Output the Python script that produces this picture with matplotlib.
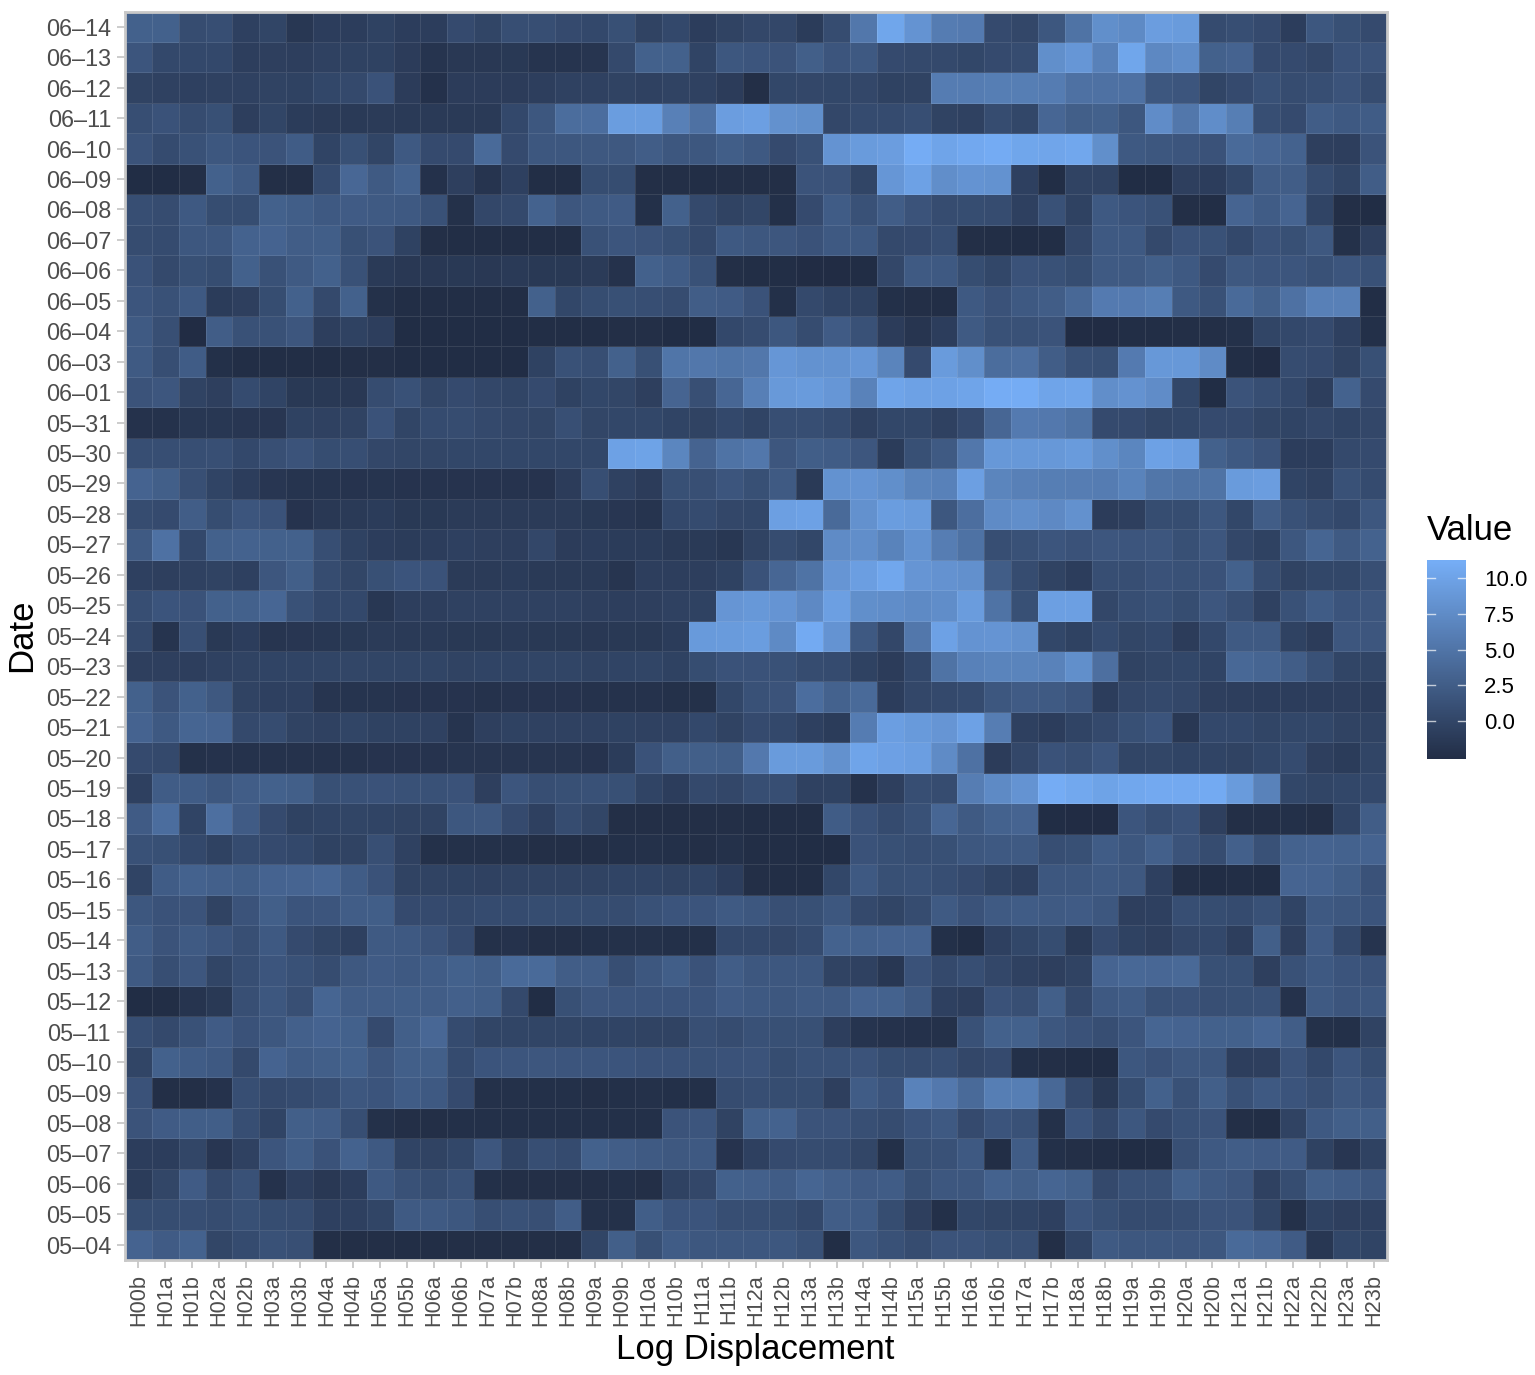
import numpy as np
import matplotlib
matplotlib.use('Agg')
import matplotlib.pyplot as plt
from matplotlib.colors import LinearSegmentedColormap

plt.rcParams['font.family'] = ['Liberation Sans', 'DejaVu Sans']

hours = ['H00b', 'H01a', 'H01b', 'H02a', 'H02b', 'H03a', 'H03b', 'H04a', 'H04b', 'H05a', 'H05b', 'H06a',
         'H06b', 'H07a', 'H07b', 'H08a', 'H08b', 'H09a', 'H09b', 'H10a', 'H10b', 'H11a', 'H11b', 'H12a',
         'H12b', 'H13a', 'H13b', 'H14a', 'H14b', 'H15a', 'H15b', 'H16a', 'H16b', 'H17a', 'H17b', 'H18a',
         'H18b', 'H19a', 'H19b', 'H20a', 'H20b', 'H21a', 'H21b', 'H22a', 'H22b', 'H23a', 'H23b']

dates = ['05–04', '05–05', '05–06', '05–07', '05–08', '05–09', '05–10', '05–11', '05–12', '05–13', '05–14',
         '05–15', '05–16', '05–17', '05–18', '05–19', '05–20', '05–21', '05–22', '05–23', '05–24', '05–25',
         '05–26', '05–27', '05–28', '05–29', '05–30', '05–31', '06–01', '06–03', '06–04', '06–05', '06–06',
         '06–07', '06–08', '06–09', '06–10', '06–11', '06–12', '06–13', '06–14']

# values, one list per date
d0504 = [3.3, 2.4, 3.2, 0.1, 0.7, 1.4, 1.1, -2.4, -2.4, -2.4, -2.5, -2.5, -2.4, -2.4, -2.4, -2.4, -2.4, 0, 2.8, 1.2, 2.5, 2, 2,
         2, 2, 1.3, -2.5, 2, 1.4, 0.8, 1.6, 1.6, 1.2, 1.1, -2.4, -0.1, 2.3, 2, 2, 1.9, 2, 4, 3.6, 2.4, -1.5, 0.2, -0.1]
d0505 = [0.9, 0.9, 1, 0.8, 1.2, 0.9, 0.8, -0.5, -0.5, 0, 2.3, 2.3, 2, 1, 1.3, 1.1, 2.6, -2.2, -2.2, 2.7, 1.7, 1.7, 1,
         1, 0.9, 0.4, 2.6, 2.5, 0.9, -0.6, -2.3, 0.2, 0, -0.1, -0.5, 1.8, 1.2, 0.7, 0.7, 1, 1.6, 1.6, 0, -2.2, -0.3, -0.6, -0.5]
d0506 = [-1, 0.1, 2.4, 0.5, 1.3, -2, -0.7, -1.4, -0.8, 2.2, 1.3, 0.9, 1.4, -2.3, -2.4, -2.4, -2.4, -2.4, -2.3, -2.4, -0.3, 0.3, 3,
         2.9, 2.5, 3.5, 2.9, 2.4, 2.5, 1.2, 2, 2, 3.2, 2.8, 3.5, 3, 0.5, 1.3, 1.4, 3, 2.3, 1.9, -0.4, 0.9, 2.8, 2.5, 2]
d0507 = [-0.8, -0.8, 0.1, -1.6, -0.4, 1.8, 2.7, 1.5, 3.2, 2.2, -0.1, -0.2, 0.2, 1.9, -0.1, 1, 0.7, 3, 2.6, 2.3, 2.1, 2.2, -1.9,
         -0.5, 0.6, 0.8, 0.7, 0.1, -2.3, 1.2, 1.3, 2.2, -2.5, 2.5, -2.3, -2.4, -2.5, -2.6, -2.5, 1.1, 2.2, 2.6, 2.4, 2.4, -0.3, -1.6, -0.3]
d0508 = [1.6, 2.4, 2.7, 2.7, 1, -0.1, 2.8, 2.6, 1, -2.2, -2.4, -2.4, -2.3, -2.3, -2.3, -2.3, -2.3, -2.3, -2.3, -2.3, 1.6, 1.8, -0.2,
         3, 3.2, 1.6, 1.6, 1.1, 0.8, 1.7, 2.2, 0.6, 1.7, 1.4, -2.2, 1.7, 0.5, 2, 0.6, 1.4, 1.6, -2.4, -2.5, -0.2, 2.2, 2.8, 2.8]
d0509 = [1.5, -2.4, -2.4, -2, 1, 0.5, 0.7, 1, 2, 1.7, 2.5, 2.2, 0.6, -2.2, -2.2, -2.3, -2.3, -2.4, -2.3, -2.2, -2.3, -2.3, 0.8,
         1, 0.9, 0.9, -0.6, 2.5, 1.7, 6.6, 5.6, 4, 6.2, 6.2, 3.8, 0.5, -1.3, 0.9, 3, 1.4, 2.8, 1.3, 2.2, 1.7, 1.1, 2.1, 1.7]
d0510 = [0, 3, 2.5, 2.2, 0.5, 3.3, 2.5, 2.8, 3, 1.9, 2.8, 2.8, 0.7, 1.7, 1.8, 1.9, 1.8, 1.8, 1.7, 1.5, 1.5, 1.4, 1.5,
         1.6, 0.9, 1.3, 1.4, 1.6, 0.9, 0.8, 1, 0.3, 0.6, -2.3, -2.4, -2.6, -2.6, 2, 1.5, 2.1, 2, -0.7, -0.6, 1.6, 0.4, 1.8, 0.9]
d0511 = [1, 0.5, 1.3, 2.4, 1.5, 2, 2.9, 3.3, 3, 0.6, 2.8, 3.7, 0.7, 0, 0, 0, 0, -0.1, -0.1, -0.2, -0.2, 1.1, 0.8,
         1.3, 1.2, 1.2, -0.7, -1.8, -2, -2.1, -2.2, 1.4, 3, 3, 2, 1.5, 1, 1.8, 3.5, 3.3, 3, 3, 3.6, 2.6, -2.2, -2.3, -0.2]
d0512 = [-2.6, -2.5, -1.8, -1.3, 1.1, 2, 1.1, 3.5, 2.6, 2.6, 2.7, 2.6, 2.9, 2.7, 0.5, -2.6, 1.2, 1.9, 1.8, 1.7, 1.7, 1.7, 2.4,
         2.2, 2, 2.3, 2.3, 3.3, 3.2, 2.3, -0.5, -0.7, 1.5, 1.1, 2.8, 0.5, 2.2, 2.5, 1.3, 1.5, 1.1, 1.2, 1.3, -2, 2.3, 1.8, 2]
d0513 = [2.3, 1, 1.9, 0, 1, 1.8, 1.3, 0.8, 2.1, 2.4, 2.2, 2.5, 3, 2.7, 4, 4, 2.6, 2.6, 1, 2, 2.7, 1.5, 2.6,
         2, 2, 2, -0.2, -0.4, -1.5, 1.5, 0.5, 1, 0.3, -0.4, -0.6, -0.2, 3.4, 3.8, 3.7, 3.9, 1.2, 1.2, -0.6, 1.4, 2.2, 1.7, 1.5]
d0514 = [2.6, 1.6, 2.3, 1.8, 1.1, 2.2, 0.6, 0, -0.5, 2.3, 2.2, 1.6, 0.6, -2.2, -2, -2.4, -2.4, -2.3, -2.2, -2.2, -2.3, -2.3, 0.4,
         0.4, 0.3, 0.7, 3.2, 3.2, 3.3, 3.3, -2.3, -2.6, -0.5, 0.2, 0.9, -1.2, 0.6, -0.3, -0.6, 0.3, 0.4, -0.7, 2.8, -0.6, 2.4, 0.4, -1.8]
d0515 = [2, 1.5, 1.6, -0.2, 1.6, 2.8, 1.7, 1.8, 2.6, 2.7, 0.6, 0.6, 0.5, 0.7, 0.7, 0.9, 0.9, 0.9, 0.8, 1.3, 1.7, 1.7, 2.3,
         2, 1.1, 1.2, 2, 0.5, 0, 0.8, 2.3, 1.5, 2.3, 2.5, 2.3, 2.4, 2, -0.6, -0.5, 1, 0.9, 0.7, 1.3, -0.1, 2.2, 2, 1.7]
d0516 = [-0.1, 2.5, 3.2, 2.9, 2.7, 3.3, 3.4, 3.6, 2.5, 1.5, -0.2, -0.2, -0.3, -0.4, -0.2, -0.2, -0.2, -0.2, -0.1, -0.1, -0.2, -0.1, -0.8,
         -2.4, -2.5, -2.5, 0.2, 2.2, 1.2, 1.4, 1, 0.6, -0.1, -0.5, 2, 2, 2.3, 2.1, -0.5, -2.4, -2.6, -2.5, -2.6, 3.4, 3.3, 2.7, 1.5]
d0517 = [1.3, 1.2, 0.4, -0.3, 0.7, 0.6, 0.4, -0.3, -0.2, 1.1, -0.4, -2.2, -2.2, -2.2, -2.2, -2.4, -2.4, -2.4, -2.3, -2.2, -2.3, -2.4, -2.2,
         -2.5, -2.5, -2.6, -2.6, 1.5, 1.2, 1, 1.2, 2, 2.2, 2.3, 1, 1.2, 2.5, 2, 2.9, 1.6, 0.8, 2.9, 1.3, 3.2, 3.3, 3.2, 3.3]
d0518 = [2.4, 4.4, -0.1, 4.6, 2.4, 0.6, -0.3, -0.1, 0, -0.1, -0.2, -0.2, 2, 2.1, 0.6, -0.5, 0.8, 0.1, -2.4, -2.4, -2.4, -2.4, -2.4,
         -2.5, -2.5, -2.5, 2.5, 1.5, 0.7, 1.4, 3.6, 2.3, 3.2, 3.4, -2.6, -2.7, -2.7, 1.8, 1, 1.5, -0.6, -2.4, -2.4, -2.3, -2.4, -0.1, 2.6]
d0519 = [-0.5, 2.5, 2.5, 2, 2.6, 3, 2.8, 1.2, 1.4, 1.5, 1.4, 1.4, 1.5, -0.6, 1.8, 1, 1.2, 1.3, 1.2, -0.1, -0.8, 0.5, 0.3,
         1, 1, -0.4, -0.3, -2, -0.6, 1, 0.8, 6.1, 7.5, 8.5, 11.2, 10.7, 10.2, 10.6, 10.9, 10.9, 11, 9.3, 6.6, 0.2, 0, 0.2, 0.4]
d0520 = [0.6, 0.5, -2.2, -2, -2, -2, -2, -2, -2, -1.9, -1.9, -1.9, -1.7, -1.7, -1.7, -1.7, -1.7, -1.9, -1, 1.5, 2.8, 2.8, 2.7,
         5.6, 9.3, 9.3, 8.2, 10.3, 9.9, 9.7, 7.6, 4.8, -0.9, 0.3, 1.5, 1.1, 1.8, 0, 0.1, -0.1, -0.1, -0.2, 0.2, 0.7, -0.6, -1, 0]
d0521 = [3.3, 2.2, 3.5, 3.4, 0.5, 0.8, -0.2, -0.4, 0, -0.3, -0.3, -0.4, -1.8, -0.6, -0.3, -0.4, -0.4, -0.4, -0.3, -0.4, -0.4, 0.4, -0.2,
         0.6, 0.4, -0.5, -1, 6, 9.7, 9.2, 8.7, 10, 6.1, -0.5, -0.8, -0.1, 0.5, 1.2, 1.7, -1.4, 0.4, 0.4, 0, 0.2, 0.2, -0.2, -0.2]
d0522 = [3, 1.6, 3, 2.1, -0.2, -0.5, -0.5, -1.7, -1.8, -1.8, -1.9, -1.9, -1.9, -2, -1.9, -1.9, -1.9, -2, -2, -2, -2.2, -2.2, 0.2,
         1.3, 1.6, 4.4, 3.2, 4, -0.8, 0.3, 0.5, 0.7, 2, 2.4, 2.3, 1.8, -0.8, 0.3, 0.5, 0.3, -0.6, -0.7, -0.8, -0.8, -0.8, -0.7, -0.8]
d0523 = [-0.6, -0.6, -0.7, -0.4, -0.2, -0.1, -0.1, 0, 0.1, 0, 0, 0, -0.2, -0.1, -0.1, 0, 0, -0.2, -0.1, 0, -0.3, 0.9, 1.5,
         1.5, 1.3, 0.8, 0.7, -0.3, -0.9, 0.4, 5, 6.5, 6.8, 6.8, 6.6, 8, 4.6, -0.2, 0.1, 0.2, -0.1, 3.8, 3.5, 2.6, 1.4, 0, 0]
d0524 = [0.5, -1.8, 1.1, -1.3, -0.8, -1.7, -1.6, -1.5, -1.3, -1.1, -1.2, -1.2, -1.3, -1.3, -1.2, -1.3, -1.3, -1.4, -1.3, -1.3, -1, 9.2, 9.3,
         9.5, 7.5, 11, 8.5, 2.2, 0.3, 5.5, 10, 8.5, 8.6, 8.2, 0.2, -0.3, 0.7, 0.1, 0.4, -0.9, 0.4, 2.3, 2.3, -0.3, -0.9, 1.9, 1.9]
d0525 = [1, 1.7, 1.5, 3, 3, 3.6, 1.3, 0.4, 0.4, -1.5, -0.7, -0.7, -0.4, -0.4, -0.4, -0.4, -0.4, -0.6, -0.7, -0.6, -0.4, -0.3, 8.7,
         9, 8.6, 7.4, 9.8, 8, 7.8, 7.5, 7.8, 9.4, 5, 1.2, 9.8, 9.8, 0.3, 1, 1.4, 0.9, 1.9, 1.1, -0.4, 1.3, 2.5, 1.7, 1.9]
d0526 = [-0.5, -0.6, -0.4, -0.2, -0.5, 1.9, 2.8, 0.8, 0.1, 1.2, 1.7, 1.5, -1.1, -1.1, -1, -1.2, -1.2, -1.2, -1.7, -0.7, -0.7, -0.7, -0.3,
         1.5, 3.6, 5, 8.7, 9.7, 10.6, 8.7, 8.4, 8.1, 2.6, 0.8, -0.2, -0.8, 1, 1, 1.5, 1.4, 1.5, 3, 0.8, -0.2, 0.2, 0.2, 1.1]
d0527 = [2.3, 4.8, 0.4, 3, 3.1, 3, 3, 1, -0.3, -0.8, -1, -0.8, -0.5, -0.6, -0.7, 0.3, -0.9, -0.8, -1, -1, -1.2, -1.2, -1.5,
         -0.2, 0.8, 0.2, 7.6, 7.9, 6.7, 8.3, 6.1, 4.9, 1, 1.3, 1.8, 1.5, 1.9, 1.8, 1.9, 1.2, 1.9, 0.3, -0.3, 2, 3.5, 2.3, 3.2]
d0528 = [0.8, 0.6, 2.6, 0.9, 1.8, 1.5, -1.9, -1.4, -1.2, -1, -1.3, -1.3, -1.1, -1.1, -1.1, -1.1, -1.1, -1.3, -1.6, -1.8, 0.4, 0.7, 0.3,
         0.2, 9.8, 10, 4, 8.2, 9.5, 9.3, 2, 4.5, 7.6, 7.9, 7.4, 8.2, -0.9, -0.6, 0.9, 0.9, 2, 0.2, 2.6, 1.3, 0.8, 0.4, 2]
d0529 = [3.3, 2.8, 1.1, -0.1, -0.8, -1.6, -1.8, -1.8, -1.9, -1.8, -1.9, -1.9, -1.9, -1.9, -1.9, -1.9, -0.9, 1, -0.4, -0.9, 1.2, 1.1, 1.8,
         1.2, 2.3, -1.2, 8.3, 8.6, 8, 6.8, 6.5, 9.8, 6.9, 6.4, 6.2, 6.1, 6, 6.7, 5.3, 5, 5, 9.3, 9.6, -0.1, -0.4, 1.3, 0.7]
d0530 = [1, 1, 1, 1.1, 0.4, 1.1, 1.6, 0.9, 1, 0.3, 0.1, 0.1, 0.2, 0.2, 0.2, 0.2, 0.2, 0.2, 10, 10.2, 7, 3.3, 5,
         5.5, 1.9, 2.7, 2.5, 1.9, -1, 1.2, 2.3, 5.5, 9, 9, 9, 9.3, 8, 7, 10, 9.7, 3, 2.2, 1.6, -0.8, -0.8, 0.5, 0.6]
d0531 = [-2, -2, -1.5, -1.5, -1.6, -1.6, -0.3, -0.4, -0.2, 1.5, 0, 0.7, 0.8, 0.5, 0.3, 0.1, 1.1, 0.1, 0.2, 0.2, -0.1, -0.2, 0.4,
         -0.1, 1, 1, 0.7, -0.4, 0.2, 0.2, -0.4, 0.6, 3.6, 5.8, 5.6, 5, 0.6, 0.6, 0.1, 0.2, 0.6, 0.6, 0.1, -0.1, 0.3, -0.1, 0.3]
d0601 = [1.6, 1.9, -0.2, -0.6, 0.7, -0.1, -1.3, -1.3, -1.4, 0.8, 1.3, 0.1, 0.6, 0.3, 0, 0.6, -0.3, 0.2, 0.1, -0.6, 3.4, 1.1, 3.6,
         6.3, 9.1, 9.3, 8.8, 6.6, 10.3, 10, 10, 10.3, 11.2, 11.2, 10.3, 10.4, 7.9, 8.4, 7.7, 0.2, -2.6, 1.6, 1, 0.4, -0.7, 3.2, 0.6]
d0603 = [2.3, 1, 2.5, -2.3, -2.5, -2.5, -2.5, -2.5, -2.4, -2.4, -2.6, -2.6, -2.6, -2.6, -2.6, -0.3, 1.3, 1, 3, 1.2, 5.2, 5.4, 5.2,
         5.4, 8.8, 8.3, 8.3, 8.8, 6.8, 0.6, 9.3, 8, 4.3, 4.6, 2.6, 1.4, 1.2, 5.8, 9, 9, 7.6, -2.5, -2.7, 0.8, 0.6, -0.2, 1.2]
d0604 = [2.3, 1.1, -2.7, 2.6, 1.3, 1.3, 1.9, -0.7, -0.3, -0.7, -2.6, -2.6, -2.6, -2.6, -2.6, -2.5, -2.5, -2.5, -2.4, -2.4, -2.6, -2.6, 0.4,
         0.8, 2, 0.8, 2.4, 1.3, -0.9, -1.7, -0.8, 2.3, 1.4, 1.3, 1.6, -2.7, -2.7, -2.5, -2.5, -2.4, -2.4, -2.2, 0, 0.4, 0.6, -0.5, -2.3]
d0605 = [1.8, 1.4, 2.2, -1, -0.6, 0.9, 3, 0.5, 3, -2.2, -2.5, -2.5, -2.5, -2.5, -2.5, 3, 0.2, 0.9, 1.2, 1, 0.8, 2.6, 2.4,
         1.5, -2.3, 0.5, -0.1, -0.3, -2.3, -2.4, -2.5, 2.2, 1.5, 2.2, 2.6, 3.8, 5.8, 5.8, 6.2, 2.2, 1.4, 4, 3, 4.8, 6.4, 6.4, -2.5]
d0606 = [1.5, 0.5, 1.2, 0.9, 3, 1.3, 2.3, 3, 1.3, -1.2, -1.4, -1.4, -1.3, -1.4, -1.2, -1.3, -1.3, -1.1, -2, 3, 2.5, 1.3, -2.4,
         -2.5, -2.5, -2.7, -2.7, -2.6, 0.3, 2.3, 2.2, 0.9, 0.2, 1.5, 1.4, 0.9, 2.3, 2.3, 2.8, 2.2, 0.6, 2.1, 1.8, 1.8, 1.3, 1.8, 1.3]
d0607 = [0.8, 0.7, 2, 2, 3.1, 3.3, 2.6, 2.7, 1.2, 1.6, -0.3, -2.4, -2.5, -2.5, -2.5, -2.5, -2.5, 1.3, 1.8, 1.6, 1.2, 0.5, 2.2,
         2, 1.9, 1.5, 2.2, 2.2, 0.5, 0.6, 1, -2.4, -2.5, -2.6, -2.5, 0.3, 2.2, 2.2, 0.5, 1.5, 1.3, 0.4, 1.5, 1.2, 2.1, -2.2, -0.6]
d0608 = [1, 0.8, 2.2, 0.9, 0.9, 3, 2.7, 2.2, 2.4, 2.3, 2.2, 1.3, -2.2, 0.3, 0.5, 3.2, 1.9, 2.3, 2.4, -2.3, 3, 0.5, -0.2,
         0.1, -2.3, 0.6, 2.5, 1.3, 2.6, 1.6, 0.8, 0.9, 0.8, -0.5, 1.3, -0.3, 2.2, 1.7, 1.4, -2.4, -2.5, 3.4, 2.5, 3.4, -0.1, -2.4, -2.6]
d0609 = [-2.6, -2.6, -2.4, 3, 2.3, -2.4, -2.4, 0.7, 3.7, 2.3, 3.2, -2.1, -0.6, -1.8, -0.5, -2.5, -2.5, 0.9, 0.9, -2.4, -2.4, -2.5, -2.4,
         -2.4, -2.4, 1.6, 1.6, 0, 8.8, 10, 7.9, 8.5, 8.3, -0.5, -2.5, -0.2, -0.2, -2.6, -2.6, -0.6, -0.8, 0.2, 2.6, 2.6, 0.8, 0, 2.6]
d0610 = [1.6, 0.7, 1.4, 2, 1.7, 1.6, 2.5, -0.1, 1.2, 0, 2.2, 0.6, 0.6, 4, 0.6, 2, 2, 2.1, 2.1, 2.6, 2, 2, 2.7,
         2.2, 0.6, 1.3, 8.5, 9.3, 9.6, 11.2, 10.3, 10.8, 11.1, 10.5, 10.4, 10.6, 8, 2.2, 2, 1.8, 1.5, 4, 3.6, 3.2, -0.6, -0.7, 1.6]
d0611 = [1, 1.5, 0.8, 1.2, -0.7, 0, -1, -1.1, -1.2, -1.1, -1.2, -1.2, -1.2, -1.2, 0.4, 2, 4.3, 4.4, 9.5, 9.5, 6.4, 4.8, 9.6,
         9.8, 8.2, 8, 0.3, 0.7, 0.7, 1, -0.2, -0.4, 0.8, 0.2, 3.6, 2.8, 3, 2, 7.7, 5.5, 7.8, 6.2, 1, 0.6, 2.6, 2.2, 2.5]
d0612 = [-0.2, -0.4, -0.5, -0.4, -0.4, -0.2, -0.3, 0.2, 0.5, 1.5, -0.9, -2.1, -0.9, -0.9, -0.9, -0.7, -0.4, -0.4, -0.2, -0.4, -0.2, -0.4, -0.9,
         -2.4, 0.2, 0.3, 0.2, 0.3, -0.3, -0.2, 6, 6, 6.2, 6.2, 6, 4.8, 4.8, 4.8, 2, 1.8, 0, 0.6, 1.3, 0.8, 1, 1.6, 0.8]
d0613 = [1.8, 0.4, 0.4, 0.4, -0.7, -0.6, -0.7, -0.4, -0.3, -0.3, -0.9, -1.8, -1.4, -1.4, -1.3, -1.8, -1.8, -1.7, 0.5, 3, 3, -0.1, 2,
         1.8, 1.6, 2.8, 1.8, 2.2, 0.6, 0.5, 0.5, 0.2, 0.6, 0.8, 8, 8.8, 6.5, 10.5, 7.3, 7.8, 3, 3.3, 0.6, 0.6, 0.3, 1.5, 1.6]
d0614 = [3, 3, 0.8, 1, -0.5, 0, -1.5, -0.8, -0.8, -0.3, -0.8, -0.8, 0.6, 0, 1, 1, 0.6, 0.4, 1.2, -0.2, 0.4, -0.8, -0.2,
         0.3, 0.3, -1, 0.8, 5.5, 10.5, 8.5, 6, 5.8, 0.6, 0.3, 2, 5, 8, 7.5, 9.6, 9.3, 0.7, 1, 0.6, -0.8, 2, 1.2, 0.6]

values = np.array([d0504, d0505, d0506, d0507, d0508, d0509, d0510, d0511, d0512, d0513, d0514,
                   d0515, d0516, d0517, d0518, d0519, d0520, d0521, d0522, d0523, d0524, d0525,
                   d0526, d0527, d0528, d0529, d0530, d0531, d0601, d0603, d0604, d0605, d0606,
                   d0607, d0608, d0609, d0610, d0611, d0612, d0613, d0614])

W, H = 1535, 1375
cmap = LinearSegmentedColormap.from_list('value', ['#212c44', '#75adf5'])
vmin, vmax = -2.7, 11.3

fig = plt.figure(figsize=(W / 100, H / 100), dpi=100)
ax = fig.add_axes([125 / W, 1 - 1260 / H, (1387 - 125) / W, (1260 - 11.5) / H])

mesh = ax.pcolormesh(values, cmap=cmap, vmin=vmin, vmax=vmax,
                     edgecolors=(1, 1, 1, 0.1), linewidth=0.6)

ax.set_xticks(np.arange(len(hours)) + 0.5)
ax.set_xticklabels(hours, rotation=90, fontsize=15.7, color='#4d4d4d')
ax.set_yticks(np.arange(len(dates)) + 0.5)
ax.set_yticklabels(dates, fontsize=16.8, color='#4d4d4d')
ax.tick_params(axis='both', color='#c4c4c4', length=6, width=1.2, pad=4)
for s in ax.spines.values():
    s.set_color('#c8c8c8')
    s.set_linewidth(2)

fig.text(755 / W, 1 - 1350 / H, 'Log Displacement', fontsize=25, ha='center', va='center', color='black')
fig.text(22 / W, 1 - 635 / H, 'Date', fontsize=25, rotation=90, ha='center', va='center', color='black')

# legend
cax = fig.add_axes([1427 / W, 1 - 759 / H, 39 / W, 199 / H])
cb = fig.colorbar(mesh, cax=cax)
cb.outline.set_visible(False)
cb.solids.set_edgecolor('face')
cb.set_ticks([0, 2.5, 5, 7.5, 10])
cb.set_ticklabels(['0.0', '2.5', '5.0', '7.5', '10.0'])
cb.ax.tick_params(length=0, pad=13, labelsize=16, labelcolor='black')
for t in [0, 2.5, 5, 7.5, 10]:
    cax.plot([0, 0.2], [t, t], color='white', alpha=0.7, lw=1, clip_on=False)
    cax.plot([0.8, 1], [t, t], color='white', alpha=0.7, lw=1, clip_on=False)
cax.set_xlim(0, 1)
fig.text(1427 / W, 1 - 531 / H, 'Value', fontsize=25, ha='left', va='center', color='black')

plt.savefig('out.png', dpi=100)
